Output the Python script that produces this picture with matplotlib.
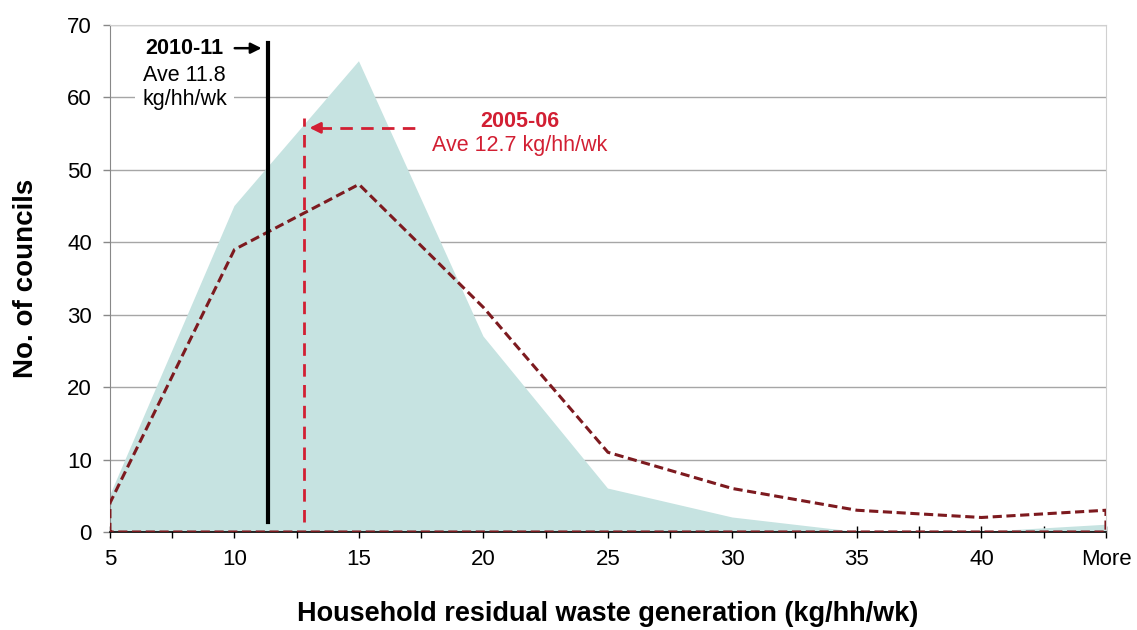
import matplotlib.pyplot as plt

plt.rcParams['font.family'] = ['Liberation Sans', 'DejaVu Sans']

# Data
categories = ['5', '10', '15', '20', '25', '30', '35', '40', 'More']
councils_2010 = [5, 45, 65, 27, 6, 2, 0, 0, 1]
councils_2005 = [4, 39, 48, 31, 11, 6, 3, 2, 3]
avg_2010 = 11.35   # drawn position of the 2010-11 average line (kg/hh/wk)
avg_2005 = 12.8    # drawn position of the 2005-06 average line (kg/hh/wk)


def kg_to_pos(v):
    # categories are 5 kg apart, first one at 5
    return (v - 5) / 5


x = list(range(len(categories)))
teal = '#c6e3e1'
dark_red = '#7d1a1f'
red = '#d21f33'

fig = plt.figure(figsize=(11.37, 6.3), dpi=100)
ax = fig.add_axes([0.0967, 0.1556, 0.876, 0.8047])

# grid behind everything
ax.set_axisbelow(True)
ax.yaxis.grid(True, color='#a6a6a6', lw=1)

# 2010-11 distribution as filled area
ax.fill_between(x, councils_2010, 0, facecolor=teal, lw=0, zorder=2)
# 2005-06 distribution as a dashed outline (closed along the baseline)
ax.fill_between(x, councils_2005, 0, facecolor='none', edgecolor=dark_red,
                lw=2.2, linestyle=(0, (3, 1.5)), zorder=3)

# average lines
b = kg_to_pos(avg_2010)
r = kg_to_pos(avg_2005)
ax.plot([b, b], [1.4, 67.5], color='black', lw=3, zorder=4)
ax.plot([r, r], [1.4, 57.2], color=red, lw=2, linestyle=(0, (4.5, 3)), zorder=4)

# 2010-11 label and arrow
ax.annotate('', xy=(b - 0.03, 66.8), xytext=(0.98, 66.8),
            arrowprops=dict(arrowstyle='-|>', color='black', lw=1.8,
                            mutation_scale=16), zorder=5)
ax.text(0.6, 61.4, 'Ave 11.8\nkg/hh/wk', ha='center', va='center',
        fontsize=15.5, linespacing=1.2, zorder=5,
        bbox=dict(facecolor='white', edgecolor='none', pad=5))
ax.text(0.6, 66.8, '2010-11', ha='center', va='center', fontsize=15.5,
        fontweight='bold', zorder=5)

# 2005-06 label and arrow
ax.plot([r + 0.12, 2.5], [55.8, 55.8], color=red, lw=2,
        linestyle=(0, (4.5, 3)), zorder=5)
ax.annotate('', xy=(r + 0.02, 55.8), xytext=(r + 0.16, 55.8),
            arrowprops=dict(arrowstyle='-|>', color=red, lw=2,
                            mutation_scale=16), zorder=5)
ax.text(3.29, 56.7, '2005-06', ha='center', va='center', fontsize=15.5,
        fontweight='bold', color=red, zorder=5)
ax.text(3.29, 53.4, 'Ave 12.7 kg/hh/wk', ha='center', va='center',
        fontsize=15.5, color=red, zorder=5)

# axes
ax.set_xlim(0, len(categories) - 1)
ax.set_ylim(0, 70)
ax.set_xticks(x)
ax.set_xticklabels(categories)
ax.set_xticks([i + 0.5 for i in x[:-1]], minor=True)
ax.set_yticks(range(0, 71, 10))
ax.tick_params(axis='x', which='both', direction='inout', length=9,
               width=1, color='black', labelsize=16, pad=8)
ax.tick_params(axis='y', direction='out', length=5, width=1,
               color='#888888', labelsize=16, pad=8)

ax.spines['bottom'].set_color('black')
ax.spines['bottom'].set_linewidth(1.2)
ax.spines['left'].set_color('#888888')
ax.spines['top'].set_color('#d0d0d0')
ax.spines['right'].set_color('#d0d0d0')

ax.set_xlabel('Household residual waste generation (kg/hh/wk)', fontsize=19.5,
              fontweight='bold', labelpad=22)
ax.set_ylabel('No. of councils', fontsize=20, fontweight='bold', labelpad=20)

fig.savefig('out.png', dpi=100)
